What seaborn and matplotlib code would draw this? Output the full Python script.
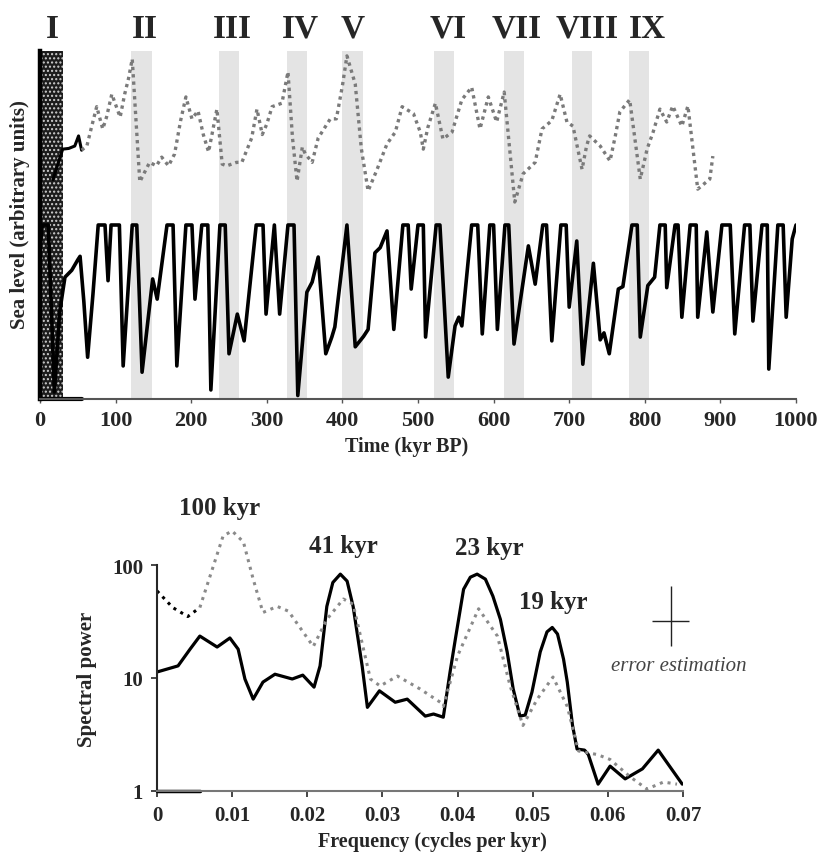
import matplotlib
matplotlib.use("Agg")
import matplotlib.pyplot as plt
import seaborn as sns

sns.set_style("ticks")
plt.rcParams["font.family"] = ["Liberation Serif", "DejaVu Serif"]
plt.rcParams["font.weight"] = "bold"
plt.rcParams["hatch.linewidth"] = 1.0

# ---- top panel: modelled sea level (arbitrary units, 0..100) ----
time_solid = [0, 3, 11, 19, 26, 33, 42, 50, 53, 58, 63, 70, 77, 86, 90, 94, 99, 105, 110,
              122, 128, 135, 149, 155, 168, 176, 181, 193, 201, 205, 214, 222, 226, 238,
              245, 250, 261, 270, 286, 295, 299, 310, 317, 328, 336, 341, 353, 360, 368,
              378, 386, 390, 406, 417, 428, 434, 443, 450, 459, 468, 480, 487, 491, 500,
              507, 510, 524, 529, 540, 549, 554, 558, 571, 579, 585, 595, 600, 605, 615,
              620, 627, 646, 655, 665, 670, 677, 689, 696, 700, 710, 718, 732, 741, 746,
              753, 765, 771, 783, 790, 794, 804, 813, 820, 827, 829, 840, 844, 849, 860,
              868, 870, 882, 890, 902, 913, 919, 932, 939, 943, 955, 962, 964, 976, 983,
              987, 995, 1000]
level_solid = [43, 50, 50, 2, 25, 35, 37, 40, 41, 28, 12, 30, 50, 50, 34, 50, 50, 50, 9.5,
               50, 50, 7.7, 34.5, 28.7, 50, 50, 9.5, 50, 50, 28.7, 50, 50, 2.6, 50,
               50, 13, 24.4, 16.7, 50, 50, 24.4, 50, 24.4, 50, 50, 1, 30.7, 33.6, 40.8,
               13, 17.8, 20.7, 50, 15, 18, 20, 42, 43.5, 48.3, 20, 50, 50, 31.6, 50,
               50, 17.8, 50, 50, 6.3, 21, 23.5, 21, 50, 50, 18.7, 50, 50, 20, 50,
               50, 15.8, 44, 33, 50, 50, 16.7, 50, 50, 26.4, 45.4, 10, 39, 17, 19,
               13, 31.6, 32.3, 50, 50, 17.8, 32.6, 35, 50, 50, 32, 50, 50, 23.5, 50,
               50, 23.5, 48, 25, 50, 50, 18.7, 50, 50, 22.4, 50, 50, 8.6, 50, 50,
               23.5, 46, 50]

# observed record (dotted); first short stretch drawn solid black
time_obs_start = [17, 30, 38, 46, 51, 55]
level_obs_start = [63, 71.8, 72, 72.7, 75.6, 71.5]
time_obs = [55, 62, 68, 75, 83, 88, 95, 101, 106, 112, 117, 122, 127, 132, 138, 145, 154,
            161, 170, 178, 186, 193, 201, 209, 216, 223, 234, 241, 247, 260, 267, 280,
            287, 294, 300, 307, 320, 328, 334, 340, 347, 351, 360, 368, 384, 392, 400,
            406, 417, 425, 434, 445, 459, 470, 479, 494, 503, 507, 513, 523, 533, 545,
            558, 571, 582, 593, 604, 614, 628, 639, 655, 664, 677, 688, 697, 705, 717,
            723, 727, 741, 754, 761, 767, 780, 794, 803, 811, 820, 829, 837, 849, 857,
            870, 886, 890]
level_obs = [71.5, 72.7, 78, 84, 77.6, 81, 87.6, 84, 81, 87.6, 92, 97.7, 80, 62.4, 65, 68, 67,
             69.5, 67, 70.4, 80, 86.8, 80.5, 82.8, 76, 71, 83.3, 67.5, 67, 68, 68, 75,
             83.3, 76, 79, 84, 85, 94, 75, 62.6, 72.4, 70.4, 68, 75, 80.5, 80.5, 90,
             98.6, 90.5, 72, 59.8, 65.5, 73.3, 76.7, 84, 82, 76.7, 71.8, 78, 85, 74.7, 76.7,
             86, 89.6, 77.6, 86.8, 79.6, 88.2, 56.6, 64.7, 68, 77.6, 80, 87.6, 79.6, 78.4, 66,
             72.7, 75.6, 72.7, 68.4, 75.6, 82.5, 86, 63.2, 71.8, 76.7, 83.3, 79.6, 84.2, 78.4, 84.2,
             60.3, 63.2, 69.8]

dark_band = (0, 30)
band_starts = [120, 237, 327, 400, 521, 614, 704, 779]
band_ends = [148, 263, 353, 427, 548, 640, 730, 806]
stage_labels = ["I", "II", "III", "IV", "V", "VI", "VII", "VIII", "IX"]
stage_x = [17, 139, 255, 344, 414, 540, 631, 724, 803]

# ---- bottom panel: spectra ----
freq_model = [0, 0.0028, 0.0044, 0.0057, 0.008, 0.0097, 0.0108, 0.0117, 0.0128, 0.0141,
              0.0157, 0.018, 0.0194, 0.0209, 0.0217, 0.0226, 0.0234, 0.0244, 0.0253,
              0.0261, 0.0273, 0.028, 0.0296, 0.0317, 0.0333, 0.0357, 0.0368, 0.0381,
              0.039, 0.0397, 0.0408, 0.0417, 0.0426, 0.0437, 0.0447, 0.0457, 0.0466,
              0.0474, 0.0483, 0.049, 0.0499, 0.051, 0.0519, 0.0526, 0.0533, 0.0541,
              0.0546, 0.0553, 0.0559, 0.0569, 0.0574, 0.0587, 0.0603, 0.0623, 0.0646,
              0.0667, 0.0699]
power_model = [11.3, 12.8, 18, 23.5, 18.8, 22.6, 18, 9.8, 6.5, 9.2,
               10.8, 9.8, 10.6, 8.3, 12.8, 43, 70, 83, 72,
               43, 12.8, 5.5, 7.7, 6.1, 6.5, 4.6, 4.8, 4.5,
               11.3, 22, 61, 78, 83, 75, 53, 33, 17,
               8, 4.6, 4.7, 7.5, 17, 25.6, 28, 24.5, 14.7,
               9.2, 3.8, 2.35, 2.3, 2.1, 1.15, 1.66, 1.28, 1.57,
               2.3, 1.15]
freq_obs_start = [0, 0.0021, 0.0041, 0.0057]
power_obs_start = [59, 42, 35, 42]
freq_obs = [0.0057, 0.0075, 0.0088, 0.01, 0.0115, 0.0128, 0.0141, 0.016, 0.0175, 0.0208,
            0.0226, 0.0248, 0.0261, 0.0284, 0.0297, 0.032, 0.035, 0.0377, 0.0381, 0.04,
            0.0428, 0.0453, 0.047, 0.0487, 0.0506, 0.0527, 0.0546, 0.0561, 0.0586, 0.0603,
            0.063, 0.0652, 0.0674, 0.0692]
power_obs = [42, 98, 181, 200, 160, 75, 38, 43, 39, 19,
             33, 50, 45, 9.8, 8.5, 10.4, 8, 6.1, 5.6, 15.7,
             41, 23.5, 8.5, 3.8, 6.5, 10.2, 5.6, 2.26, 2.1, 1.9,
             1.33, 1.04, 1.2, 1.15]
peak_labels = ["100 kyr", "41 kyr", "23 kyr", "19 kyr"]
peak_x = [0.00826, 0.0248, 0.0442, 0.0527]
peak_y = [326, 150, 144, 48]

fig = plt.figure(figsize=(8.23, 8.53), dpi=100)
ax1 = fig.add_axes([40 / 823, 1 - 400 / 853, 756 / 823, 348 / 853])
ax2 = fig.add_axes([157 / 823, 1 - 792 / 853, 526 / 823, 339 / 853])
ax2.set_facecolor("none")

# top panel
ax1.axvspan(*dark_band, facecolor="#1c1c1c", edgecolor="#d0d0d0", hatch="....", lw=0, zorder=0)
for s, e in zip(band_starts, band_ends):
    ax1.axvspan(s, e, color="#e4e4e4", lw=0, zorder=0)

sns.lineplot(x=time_solid, y=level_solid, ax=ax1, color="black", linewidth=2.6,
             estimator=None, sort=False, solid_joinstyle="round")
sns.lineplot(x=time_obs_start, y=level_obs_start, ax=ax1, color="black", linewidth=2.2,
             estimator=None, sort=False)
sns.lineplot(x=time_obs, y=level_obs, ax=ax1, color="#7a7a7a", linewidth=2.4,
             linestyle=(0, (1, 1.2)), estimator=None, sort=False)

for lab, x in zip(stage_labels, stage_x):
    ax1.text(x, 106.5, lab, ha="center", va="center", fontsize=24, fontweight="bold",
             clip_on=False)

ax1.set_xlim(0, 1000)
ax1.set_ylim(0, 100)
ax1.set_xticks(range(0, 1001, 100))
ax1.set_yticks([])
ax1.tick_params(axis="x", labelsize=16, length=3, width=1, pad=5, color="#555")
sns.despine(ax=ax1)
ax1.spines["left"].set_linewidth(3.2)
ax1.spines["left"].set_color("black")
ax1.spines["bottom"].set_color("#555")
ax1.spines["bottom"].set_linewidth(1.5)
ax1.plot([time_solid[0], time_obs_start[-1]], [0, 0], color="black", lw=3, clip_on=False)
ax1.set_xlabel("Time (kyr BP)", fontsize=14.5, fontweight="bold")
ax1.set_ylabel("Sea level (arbitrary units)", fontsize=15, fontweight="bold")
ax1.xaxis.label.set_va("center")
ax1.xaxis.set_label_coords(0.485, -0.135)
ax1.yaxis.label.set_va("center")
ax1.yaxis.set_label_coords(-0.0265, 0.532)

# bottom panel
sns.lineplot(x=freq_model, y=power_model, ax=ax2, color="black", linewidth=2.3,
             estimator=None, sort=False, solid_joinstyle="round")
sns.lineplot(x=freq_obs_start, y=power_obs_start, ax=ax2, color="black", linewidth=2.2,
             linestyle=(0, (1, 1.6)), estimator=None, sort=False)
sns.lineplot(x=freq_obs, y=power_obs, ax=ax2, color="#8a8a8a", linewidth=2.2,
             linestyle=(0, (1, 1.6)), estimator=None, sort=False)

ax2.set_yscale("log")
ax2.set_xlim(0, 0.07)
ax2.set_ylim(1, 1000)
ax2.set_xticks([0, 0.01, 0.02, 0.03, 0.04, 0.05, 0.06, 0.07])
ax2.set_xticklabels(["0", "0.01", "0.02", "0.03", "0.04", "0.05", "0.06", "0.07"])
ax2.set_yticks([1, 10, 100])
ax2.set_yticklabels(["1", "10", "100"])
ax2.minorticks_off()
ax2.tick_params(labelsize=15, length=4, width=1.2, pad=6)
sns.despine(ax=ax2)
ax2.spines["left"].set_bounds(1, 100)
ax2.spines["left"].set_linewidth(1.5)
ax2.spines["bottom"].set_color("#777")
ax2.spines["bottom"].set_linewidth(1.5)
ax2.plot([freq_obs_start[0], freq_obs_start[-1]], [1, 1], color="black", lw=2.5, clip_on=False)

for lab, x, y in zip(peak_labels, peak_x, peak_y):
    ax2.text(x, y, lab, ha="center", va="center", fontsize=18, fontweight="bold")

ax2.errorbar([0.0684], [32], xerr=[[0.0025], [0.0024]], yerr=[[12.8], [33]], fmt="none",
             ecolor="#222", elinewidth=1.0, clip_on=False)
ax2.text(0.0694, 13, "error estimation", ha="center", va="center", fontsize=15,
         fontstyle="italic", fontweight="normal", color="#444", clip_on=False)

ax2.set_xlabel("Frequency (cycles per kyr)", fontsize=14.5, fontweight="bold")
ax2.set_ylabel("Spectral power", fontsize=15, fontweight="bold")
ax2.xaxis.label.set_va("center")
ax2.xaxis.set_label_coords(0.523, -0.1475)
ax2.yaxis.label.set_va("center")
ax2.yaxis.set_label_coords(-0.133, 0.333)

fig.savefig("out.png", dpi=100)
